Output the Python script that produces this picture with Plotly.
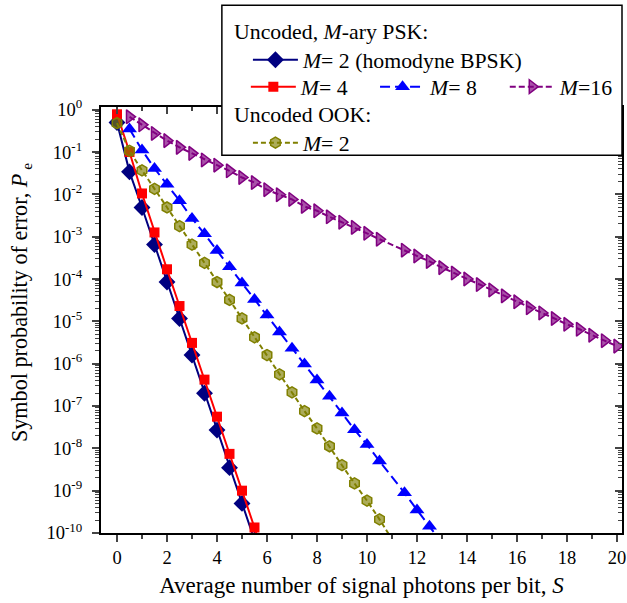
import plotly.graph_objects as go

# ---- data ----
S_bpsk = [0, 0.5, 1, 1.5, 2, 2.5, 3, 3.5, 4, 4.5, 5, 5.5]
Pe_bpsk = [0.5, 3.4e-2, 4.9e-3, 6.5e-4, 8.5e-5, 1.17e-5, 1.6e-6, 2.0e-7, 2.7e-8, 3.5e-9, 5.0e-10, 6.8e-11]

S_qpsk = [0, 0.5, 1, 1.5, 2, 2.5, 3, 3.5, 4, 4.5, 5, 5.5, 6]
Pe_qpsk = [0.78, 0.10, 1.05e-2, 1.26e-3, 1.7e-4, 2.3e-5, 3.1e-6, 4.2e-7, 5.6e-8, 7.4e-9, 1.0e-9, 1.35e-10, 1.8e-11]

S_8psk = [0.5, 1, 1.5, 2, 2.5, 3, 3.5, 4, 4.5, 5, 5.5, 6, 6.5, 7, 7.5, 8, 8.5, 9, 9.5, 10, 10.5,
          11.5, 12, 12.5, 13]
Pe_8psk = [0.35, 0.112, 4.1e-2, 1.74e-2, 7.1e-3, 2.7e-3, 1.17e-3, 4.7e-4, 1.95e-4, 8.1e-5, 3.3e-5,
           1.41e-5, 5.6e-6, 2.3e-6, 9.8e-7, 4.1e-7, 1.7e-7, 6.8e-8, 2.75e-8, 1.23e-8, 5.0e-9,
           8.9e-10, 3.5e-10, 1.45e-10, 5.8e-11]

S_16psk = [0.5, 1, 1.5, 2, 2.5, 3, 3.5, 4, 4.5, 5, 5.5, 6, 6.5, 7, 7.5, 8, 8.5, 9, 9.5, 10, 10.5,
           11.5, 12, 12.5, 13, 13.5, 14, 14.5, 15, 15.5, 16, 16.5, 17, 17.5, 18, 18.5, 19, 19.5, 20]
Pe_16psk = [0.68, 0.44, 0.275, 0.186, 0.129, 9.3e-2, 6.5e-2, 4.9e-2, 3.6e-2, 2.5e-2, 1.9e-2, 1.29e-2,
            9.8e-3, 7.6e-3, 5.2e-3, 4.1e-3, 2.95e-3, 2.2e-3, 1.66e-3, 1.2e-3, 8.7e-4,
            4.8e-4, 3.5e-4, 2.6e-4, 1.86e-4, 1.38e-4, 1.0e-4, 7.4e-5, 5.5e-5, 4.0e-5, 2.9e-5,
            2.1e-5, 1.58e-5, 1.17e-5, 8.5e-6, 6.5e-6, 4.7e-6, 3.5e-6, 2.6e-6]

S_ook = [0, 0.5, 1, 1.5, 2, 2.5, 3, 3.5, 4, 4.5, 5, 5.5, 6, 6.5, 7, 7.5, 8, 8.5, 9, 9.5, 10, 10.5, 11]
Pe_ook = [0.48, 0.107, 3.7e-2, 1.35e-2, 4.9e-3, 1.78e-3, 6.5e-4, 2.4e-4, 8.5e-5, 3.2e-5, 1.17e-5,
          4.2e-6, 1.6e-6, 5.6e-7, 2.1e-7, 7.6e-8, 2.95e-8, 1.12e-8, 4.0e-9, 1.48e-9, 5.8e-10,
          2.1e-10, 7.1e-11]

x_ticks = list(range(0, 21, 2))
y_exps = list(range(-10, 1))
y_tickvals = [10.0 ** e for e in y_exps]
y_ticktext = ["10<sup>%d</sup>\u00a0\u200a" % e for e in y_exps]

names = ["<i>M</i>= 2 (homodyne BPSK)", "<i>M</i>= 4", "<i>M</i>= 8", "<i>M</i>=16", "<i>M</i>= 2"]
hdr_psk = "Uncoded, <i>M</i>-ary PSK:"
hdr_ook = "Uncoded OOK:"
x_title = "Average number of signal photons per bit, <i>S</i>"
y_title = "Symbol probability of error, <i>P</i><sub> e</sub>"

FONT = "Liberation Serif"
NAVY = "#000080"
RED = "#ff0000"
BLUE = "#0000ff"
PURPLE = "#800080"
OLIVE = "#808000"

fig = go.Figure()
fig.add_trace(go.Scatter(x=S_bpsk, y=Pe_bpsk, mode="lines+markers", name=names[0], legend="legend",
                         line=dict(color=NAVY, width=2),
                         marker=dict(symbol="diamond", size=13, color=NAVY)))
fig.add_trace(go.Scatter(x=S_qpsk, y=Pe_qpsk, mode="lines+markers", name=names[1], legend="legend2",
                         line=dict(color=RED, width=2),
                         marker=dict(symbol="square", size=10, color=RED)))
fig.add_trace(go.Scatter(x=S_8psk, y=Pe_8psk, mode="lines+markers", name=names[2], legend="legend3",
                         line=dict(color=BLUE, width=2, dash="10px,5px"),
                         marker=dict(symbol="triangle-up", size=13, color=BLUE)))
fig.add_trace(go.Scatter(x=S_16psk, y=Pe_16psk, mode="lines+markers", name=names[3], legend="legend4",
                         line=dict(color=PURPLE, width=2, dash="6px,3px"),
                         marker=dict(symbol="triangle-right", size=12, color="rgba(128,0,128,0.68)",
                                     line=dict(color=PURPLE, width=1.5))))
fig.add_trace(go.Scatter(x=S_ook, y=Pe_ook, mode="lines+markers", name=names[4], legend="legend5",
                         line=dict(color=OLIVE, width=2, dash="5px,3px"),
                         marker=dict(symbol="hexagon", size=11, color="rgba(128,128,0,0.65)",
                                     line=dict(color=OLIVE, width=1.5))))
# mirror axes (top / right) with inside ticks
fig.add_trace(go.Scatter(x=[None], y=[None], xaxis="x2", yaxis="y2", showlegend=False, hoverinfo="skip"))

XR = [-0.64, 20.2]
YR = [-10, 0.064]
tickfont = dict(family=FONT, size=18.5, color="black")
LFONT = dict(family=FONT, size=21.8, color="black")


def leg(x, y):
    return dict(x=x, y=y, xanchor="left", yanchor="middle", bgcolor="rgba(0,0,0,0)",
                borderwidth=0, font=LFONT, itemwidth=45)


fig.update_layout(
    width=627, height=603,
    margin=dict(l=101, r=5, t=107, b=70, autoexpand=False),
    paper_bgcolor="white", plot_bgcolor="white",
    font=dict(family=FONT, size=22, color="black"),
    xaxis=dict(range=XR, tickmode="array", tickvals=x_ticks, ticks="outside", ticklen=7, tickwidth=1.5,
               minor=dict(dtick=1, tick0=0, ticks="outside", ticklen=4, tickwidth=1.5),
               showline=True, linewidth=2, linecolor="black", showgrid=False, zeroline=False,
               tickfont=tickfont,
               title=dict(text=x_title, font=dict(family=FONT, size=23), standoff=10)),
    xaxis2=dict(range=XR, overlaying="x", side="top", anchor="y", tickmode="array", tickvals=x_ticks,
                ticks="inside", ticklen=7, tickwidth=1.5, showticklabels=False,
                minor=dict(dtick=1, tick0=0, ticks="inside", ticklen=4, tickwidth=1.5),
                showline=True, linewidth=2, linecolor="black", showgrid=False, zeroline=False),
    yaxis=dict(type="log", range=YR, tickmode="array", tickvals=y_tickvals, ticktext=y_ticktext,
               ticks="outside", ticklen=7, tickwidth=1.5,
               minor=dict(dtick="D1", ticks="outside", ticklen=4, tickwidth=1),
               showline=True, linewidth=2, linecolor="black", showgrid=False, zeroline=False,
               tickfont=tickfont),
    yaxis2=dict(type="log", range=YR, overlaying="y", side="right", anchor="x", tickmode="array",
                tickvals=y_tickvals, ticks="inside", ticklen=7, tickwidth=1.5, showticklabels=False,
                minor=dict(dtick="D1", ticks="inside", ticklen=4, tickwidth=1),
                showline=True, linewidth=2, linecolor="black", showgrid=False, zeroline=False),
    legend=leg(0.282, 1.110),
    legend2=leg(0.278, 1.047),
    legend3=leg(0.526, 1.047),
    legend4=leg(0.775, 1.047),
    legend5=leg(0.282, 0.9155),
    shapes=[dict(type="rect", xref="paper", yref="paper", x0=0.232, x1=1.0, y0=0.887, y1=1.239,
                 fillcolor="white", line=dict(color="black", width=1.5), layer="above")],
    annotations=[
        dict(text=hdr_psk, xref="paper", yref="paper", x=0.2514, y=1.176, xanchor="left",
             yanchor="middle", showarrow=False, font=LFONT),
        dict(text=hdr_ook, xref="paper", yref="paper", x=0.2514, y=0.981, xanchor="left",
             yanchor="middle", showarrow=False, font=LFONT),
        dict(text=y_title, xref="paper", yref="paper", x=-0.1536, y=0.542, xanchor="center",
             yanchor="middle", textangle=-90, showarrow=False, font=dict(family=FONT, size=22.2)),
    ],
)

fig.write_html("out.html")
